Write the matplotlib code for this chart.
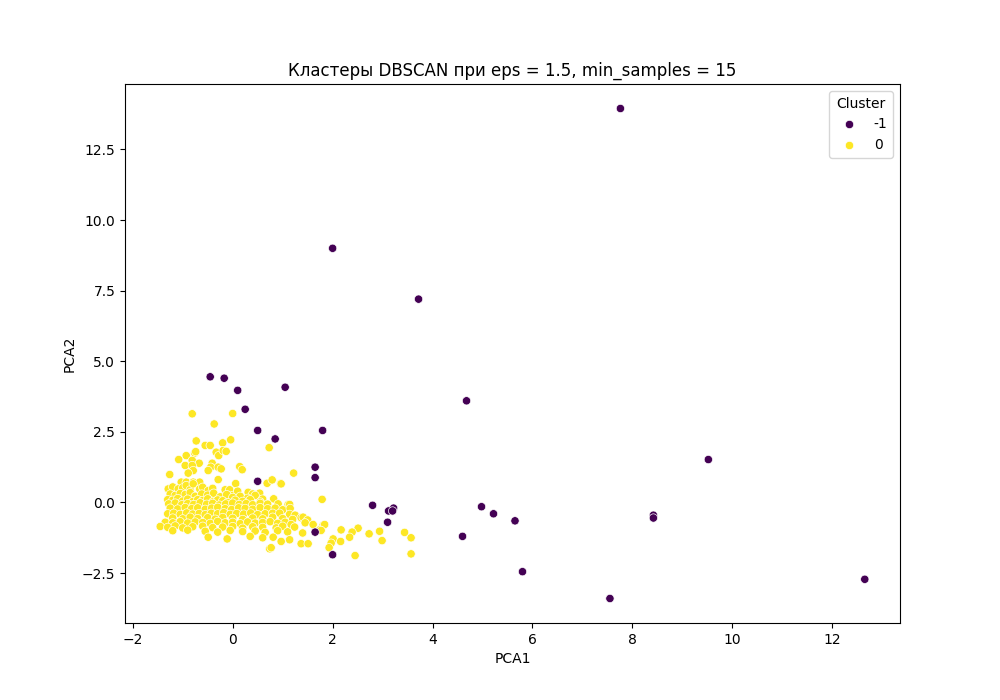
import matplotlib
matplotlib.use("Agg")
import matplotlib.pyplot as plt
import pandas as pd
import seaborn as sns

# noise points (cluster -1)
noise_x = [7.76, 2.0, 3.72, -0.45, -0.17, 1.05, 0.1, 0.25, 4.68, 0.5, 0.85, 1.8,
           9.52, 1.65, 1.65, 0.5, 2.8, 3.22, 3.12, 3.2, 4.98, 5.22, 5.65, 8.42,
           8.42, 3.1, 4.6, 1.65, 2.0, 5.8, 7.55, 12.65]
noise_y = [13.95, 9.0, 7.2, 4.45, 4.4, 4.08, 3.97, 3.3, 3.6, 2.55, 2.25, 2.55,
           1.52, 1.25, 0.88, 0.75, -0.1, -0.2, -0.3, -0.3, -0.15, -0.4, -0.65, -0.45,
           -0.55, -0.7, -1.2, -1.05, -1.85, -2.45, -3.4, -2.72]

# main cluster (cluster 0)
core_x = [
    -0.81, 0.0, -0.37, -0.73, -0.55, -0.45, -0.2, -0.04, 0.73, -0.76, -0.74, -0.93,
    -1.08, -0.81, -0.67, -0.33, -0.28, -0.19, -0.13, -0.41, -0.44, -0.49, -0.29, -0.23,
    0.14, 0.19, -0.95, -0.81, -0.79, -0.89, -1.26, -1.03, -0.93, -0.79, -0.66, -0.29,
    0.06, 0.69, 0.79, 0.96, 1.22, 0.97, 1.79,
    # y ~ 0.5
    -1.29, -1.2, -1.09, -1.0, -0.93, -0.85, -0.79, -0.66, -0.6, -0.49, -0.4, -0.36,
    -0.21, -0.15, -0.06, 0.0, 0.1, 0.31, 0.4, 0.54,
    # y ~ 0.3
    -1.25, -1.15, -1.05, -0.95, -0.85, -0.75, -0.62, -0.5, -0.38, -0.25, -0.12, 0.0,
    0.15, 0.3, 0.45, 0.6,
    # y ~ 0.1
    -1.3, -1.2, -1.1, -1.0, -0.9, -0.8, -0.7, -0.6, -0.5, -0.4, -0.3, -0.2,
    -0.1, 0.05, 0.2, 0.35, 0.55, 0.82,
    # y ~ -0.05
    -1.28, -1.15, -1.02, -0.9, -0.78, -0.65, -0.52, -0.4, -0.27, -0.14, 0.0, 0.13,
    0.27, 0.4, 0.55, 0.7, 0.91, 1.11, 1.14,
    # y ~ -0.2
    -1.25, -1.1, -0.95, -0.82, -0.7, -0.55, -0.42, -0.3, -0.15, -0.02, 0.12, 0.25,
    0.4, 0.55, 0.7, 0.85, 1.0, 1.15,
    # y ~ -0.4
    -1.3, -1.18, -1.05, -0.92, -0.8, -0.67, -0.55, -0.43, -0.3, -0.18, -0.05, 0.08,
    0.22, 0.36, 0.5, 0.65, 0.8, 0.94, 1.14, 1.25, 1.37, 1.41,
    # y ~ -0.55
    -1.2, -1.0, -0.85, -0.7, -0.5, -0.35, -0.2, 0.0, 0.2, 0.4, 0.6, 0.8,
    1.0, 1.2, 1.5,
    # y ~ -0.7
    -1.35, -1.2, -1.05, -0.9, -0.75, -0.6, -0.45, -0.3, -0.15, 0.0, 0.15, 0.3,
    0.45, 0.6, 0.75, 0.9, 1.05, 1.17, 1.45, 1.61, 1.81, 1.84,
    # y ~ -0.85
    -1.45, -1.3, -1.15, -1.0, -0.8, -0.6, -0.4, -0.2, 0.0, 0.2, 0.4, 0.6,
    0.87, 1.0, 1.24, 1.74, 1.77, 2.17, 2.51,
    # y ~ -1.0
    -1.2, -0.9, -0.55, -0.3, -0.05, 0.2, 0.45, 0.65, 0.9, 1.1, 1.4, 2.39,
    2.73, 2.94, 3.44,
    # y ~ -1.2 and below
    -0.49, -0.11, 0.35, 0.6, 0.81, 1.14, 0.97, 1.37, 1.51, 2.01, 2.16, 2.34,
    1.97, 1.93, 0.74, 0.77, 2.45, 2.99, 3.57, 3.57,
]
core_y = [
    3.14, 3.15, 2.78, 2.18, 2.02, 2.02, 2.11, 2.22, 1.94, 1.75, 1.8, 1.66,
    1.52, 1.49, 1.39, 1.78, 1.66, 1.84, 1.81, 1.39, 1.25, 1.13, 1.25, 1.19,
    1.27, 1.16, 1.31, 1.31, 1.13, 1.04, 0.99, 0.72, 0.72, 0.72, 0.72, 0.81,
    0.67, 0.68, 0.8, 0.67, 1.04, 0.66, 0.11,
    0.48, 0.55, 0.48, 0.52, 0.6, 0.45, 0.66, 0.48, 0.54, 0.42, 0.5, 0.25,
    0.19, 0.45, 0.45, 0.25, 0.4, 0.36, 0.3, 0.33,
    0.3, 0.25, 0.32, 0.28, 0.35, 0.22, 0.3, 0.26, 0.33, 0.2, 0.28, 0.18,
    0.22, 0.15, 0.25, 0.12,
    0.1, 0.08, 0.14, 0.05, 0.12, 0.03, 0.1, 0.07, 0.13, 0.02, 0.09, 0.06,
    0.0, 0.08, 0.04, 0.1, 0.02, 0.13,
    -0.05, -0.02, -0.08, -0.04, -0.07, -0.01, -0.06, -0.03, -0.09, -0.05, -0.02, -0.07,
    -0.04, -0.08, -0.03, -0.06, -0.05, -0.07, -0.07,
    -0.2, -0.23, -0.18, -0.22, -0.19, -0.24, -0.2, -0.17, -0.22, -0.25, -0.19, -0.21,
    -0.24, -0.18, -0.22, -0.2, -0.26, -0.21,
    -0.4, -0.38, -0.42, -0.37, -0.41, -0.39, -0.43, -0.38, -0.4, -0.36, -0.42, -0.39,
    -0.41, -0.37, -0.43, -0.4, -0.38, -0.38, -0.42, -0.45, -0.54, -0.52,
    -0.55, -0.58, -0.52, -0.57, -0.54, -0.59, -0.53, -0.56, -0.6, -0.55, -0.58, -0.52,
    -0.57, -0.6, -0.62,
    -0.7, -0.72, -0.68, -0.73, -0.69, -0.71, -0.74, -0.67, -0.72, -0.7, -0.75, -0.69,
    -0.73, -0.71, -0.68, -0.74, -0.7, -0.78, -0.72, -0.78, -0.81, -0.78,
    -0.85, -0.88, -0.83, -0.9, -0.86, -0.84, -0.89, -0.87, -0.85, -0.91, -0.86, -0.88,
    -0.9, -0.84, -0.87, -0.97, -0.99, -0.97, -0.91,
    -1.0, -0.98, -1.02, -1.05, -0.99, -1.03, -1.01, -1.06, -1.0, -1.04, -1.08, -1.05,
    -1.11, -1.02, -1.06,
    -1.23, -1.29, -1.2, -1.25, -1.23, -1.32, -1.38, -1.46, -1.46, -1.29, -1.38, -1.23,
    -1.44, -1.6, -1.64, -1.6, -1.88, -1.35, -1.25, -1.82,
]

x = core_x + noise_x
y = core_y + noise_y
cluster = ["0"] * len(core_x) + ["-1"] * len(noise_x)
df = pd.DataFrame({"PCA1": x, "PCA2": y, "Cluster": cluster})

# viridis end colours for the two labels
palette = {"-1": "#440154", "0": "#fde725"}

fig, ax = plt.subplots(figsize=(10, 7))
sns.scatterplot(data=df, x="PCA1", y="PCA2", hue="Cluster", hue_order=["-1", "0"],
                palette=palette, ax=ax)
ax.set_title("Кластеры DBSCAN при eps = 1.5, min_samples = 15")
ax.legend(title="Cluster")
fig.savefig("out.png", dpi=100)
